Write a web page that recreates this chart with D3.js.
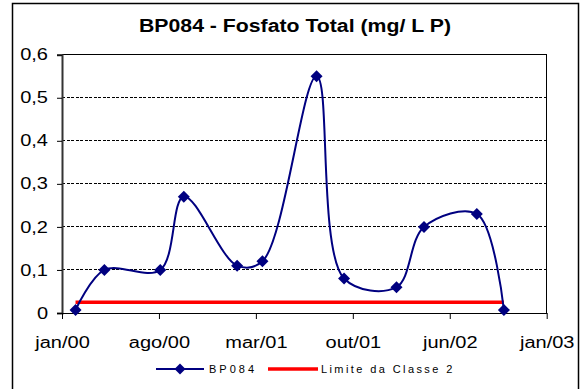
<!DOCTYPE html>
<html>
<head>
<meta charset="utf-8">
<script src="https://cdn.jsdelivr.net/npm/d3@7"></script>
<style>
  body { margin: 0; background: #fff; }
  svg text { font-family: Arial, "Liberation Sans", sans-serif; fill: #000; }
</style>
</head>
<body>
<svg id="chart" width="580" height="389"></svg>
<script>
// sampling dates and total phosphate (mg/L P)
var dates = ['2000-02-01', '2000-04-07', '2000-08-13', '2000-10-06', '2001-02-05', '2001-04-04',
             '2001-08-06', '2001-10-08', '2002-02-05', '2002-04-09', '2002-08-08', '2002-10-09'];
var bp084 = [0.007, 0.10, 0.10, 0.27, 0.11, 0.12, 0.55, 0.08, 0.06, 0.20, 0.23, 0.007];
var limite = [0.025, 0.025, 0.025, 0.025, 0.025, 0.025, 0.025, 0.025, 0.025, 0.025, 0.025, 0.025];
var xTickLabels = ['jan/00', 'ago/00', 'mar/01', 'out/01', 'jun/02', 'jan/03'];
var yTicks = [0, 0.1, 0.2, 0.3, 0.4, 0.5, 0.6];
var seriesNames = ['BP084', 'Limite da Classe 2'];

var parse = d3.timeParse('%Y-%m-%d');
var start = parse('2000-01-01');
var step = 222; // days between major ticks
var tickDates = xTickLabels.map(function (d, i) { return d3.timeDay.offset(start, i * step); });

var svg = d3.select('#chart');
var pLeft = 62, pRight = 546.7, pTop = 54.7, pBottom = 313;

var x = d3.scaleTime()
  .domain([start, tickDates[tickDates.length - 1]])
  .range([pLeft, pRight]);
var y = d3.scaleLinear()
  .domain([0, 0.6])
  .range([pBottom, pTop]);

var fmtY = function (d) { return d3.format('.1~f')(d).replace('.', ','); };

// stretch text horizontally like the original picture
function stretch(sel, k) {
  sel.each(function () {
    var w = this.getComputedTextLength();
    d3.select(this).attr('textLength', w * k).attr('lengthAdjust', 'spacingAndGlyphs');
  });
}

// outer frame
svg.append('rect')
  .attr('x', 12.5).attr('y', 3.5)
  .attr('width', 566).attr('height', 420)
  .attr('fill', 'none').attr('stroke', '#000').attr('stroke-width', 1.5);

// title
var title = svg.append('text')
  .attr('x', 295).attr('y', 32)
  .attr('text-anchor', 'middle')
  .attr('font-size', 18).attr('font-weight', 'bold')
  .text('BP084 - Fosfato Total (mg/ L P)');
stretch(title, 1.18);

// gridlines
svg.append('g')
  .selectAll('line')
  .data(yTicks.slice(1))
  .enter().append('line')
  .attr('x1', pLeft).attr('x2', pRight)
  .attr('y1', function (d) { return y(d); })
  .attr('y2', function (d) { return y(d); })
  .attr('stroke', '#000')
  .attr('stroke-width', 1)
  .attr('stroke-dasharray', '3,1.5')
  .attr('shape-rendering', 'crispEdges');

// plot frame right + top
svg.append('path')
  .attr('d', 'M' + pLeft + ',' + pTop + 'H' + pRight + 'V' + pBottom)
  .attr('fill', 'none').attr('stroke', '#000').attr('stroke-width', 1)
  .attr('shape-rendering', 'crispEdges');

// y axis
var yAxis = svg.append('g')
  .attr('transform', 'translate(' + pLeft + ',0)')
  .call(d3.axisLeft(y).tickValues(yTicks).tickFormat(fmtY).tickSize(5).tickPadding(9));
yAxis.select('.domain').attr('stroke', '#333').attr('stroke-width', 2);
yAxis.selectAll('.tick line').attr('stroke', '#000');
yAxis.selectAll('text').attr('font-size', 16).attr('font-family', 'Arial, "Liberation Sans", sans-serif');
stretch(yAxis.selectAll('text'), 1.25);

// x axis
var xAxis = svg.append('g')
  .attr('transform', 'translate(0,' + pBottom + ')')
  .call(d3.axisBottom(x).tickValues(tickDates)
    .tickFormat(function (d, i) { return xTickLabels[i]; })
    .tickSize(6).tickPadding(18).tickSizeOuter(0));
xAxis.select('.domain').attr('stroke', '#000').attr('stroke-width', 1.2);
xAxis.selectAll('.tick line').attr('stroke', '#000');
xAxis.selectAll('text').attr('font-size', 16).attr('font-family', 'Arial, "Liberation Sans", sans-serif');
stretch(xAxis.selectAll('text'), 1.25);

var pts = dates.map(function (d, i) { return { date: parse(d), v: bp084[i], lim: limite[i] }; });

// limit line
svg.append('path')
  .datum(pts)
  .attr('d', d3.line()
    .x(function (d) { return x(d.date); })
    .y(function (d) { return y(d.lim); }))
  .attr('fill', 'none')
  .attr('stroke', '#ff0000')
  .attr('stroke-width', 3.5);

// BP084 smoothed line
svg.append('path')
  .datum(pts)
  .attr('d', d3.line()
    .curve(d3.curveCatmullRom.alpha(0.5))
    .x(function (d) { return x(d.date); })
    .y(function (d) { return y(d.v); }))
  .attr('fill', 'none')
  .attr('stroke', '#000080')
  .attr('stroke-width', 2);

var diamond = function (r) { return 'M0,' + (-r) + 'L' + r + ',0L0,' + r + 'L' + (-r) + ',0Z'; };

svg.append('g')
  .selectAll('path')
  .data(pts)
  .enter().append('path')
  .attr('transform', function (d) { return 'translate(' + x(d.date) + ',' + y(d.v) + ')'; })
  .attr('d', diamond(6))
  .attr('fill', '#000080');

// legend
var lg = svg.append('g').attr('transform', 'translate(0,369)');
lg.append('line').attr('x1', 156).attr('x2', 204).attr('y1', 0).attr('y2', 0)
  .attr('stroke', '#000080').attr('stroke-width', 2);
lg.append('path').attr('transform', 'translate(180,0)').attr('d', diamond(5.5)).attr('fill', '#000080');
lg.append('text').attr('x', 209).attr('y', 4).attr('font-size', 11)
  .attr('letter-spacing', 3).text(seriesNames[0]);
lg.append('line').attr('x1', 268).attr('x2', 318).attr('y1', 0).attr('y2', 0)
  .attr('stroke', '#ff0000').attr('stroke-width', 3.5);
lg.append('text').attr('x', 321).attr('y', 4).attr('font-size', 11)
  .attr('letter-spacing', 2.4).text(seriesNames[1]);
</script>
</body>
</html>
